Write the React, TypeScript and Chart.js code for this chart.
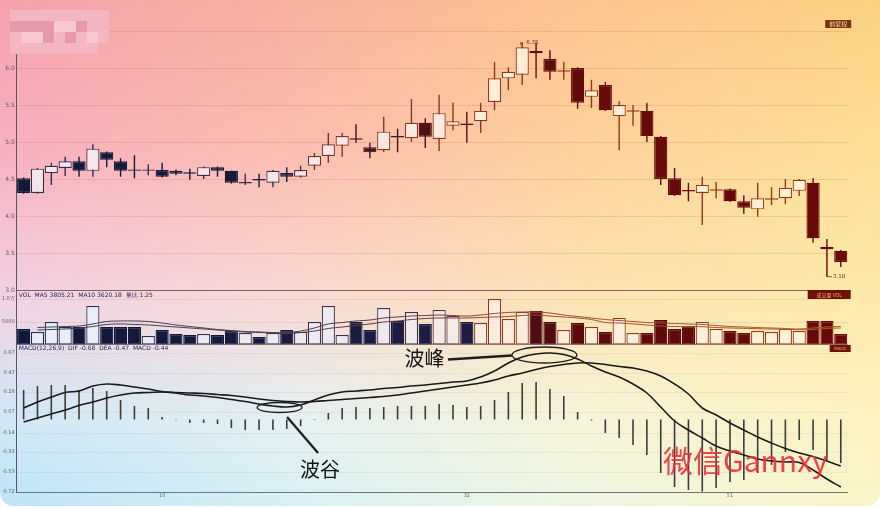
import React, { useEffect, useRef } from 'react';
import { Chart, registerables } from 'chart.js';

Chart.register(...registerables);

// ---------------- data ----------------
const CATEGORIES = [
  '0', '1', '2', '3', '4', '5', '6', '7', '8', '9',
  '10', '11', '12', '13', '14', '15', '16', '17', '18', '19',
  '20', '21', '22', '23', '24', '25', '26', '27', '28', '29',
  '30', '31', '32', '33', '34', '35', '36', '37', '38', '39',
  '40', '41', '42', '43', '44', '45', '46', '47', '48', '49',
  '50', '51', '52', '53', '54', '55', '56', '57', '58', '59',
];
const X_TICKS_SHOWN = [10, 32, 51];

const OPEN = [4.51, 4.31, 4.58, 4.65, 4.74, 4.61, 4.86, 4.74, 4.63, 4.61, 4.62, 4.61, 4.59, 4.54, 4.66, 4.61, 4.44, 4.50, 4.45, 4.58, 4.53, 4.68, 4.81, 4.95, 5.05, 4.93, 4.89, 5.08, 5.05, 5.26, 5.04, 5.22, 5.25, 5.28, 5.54, 5.86, 5.91, 6.23, 6.12, 5.95, 6.00, 5.61, 5.77, 5.35, 5.41, 5.42, 5.07, 4.51, 4.35, 4.31, 4.34, 4.36, 4.20, 4.09, 4.22, 4.24, 4.34, 4.45, 3.58, 3.53];
const HIGH = [4.52, 4.65, 4.72, 4.80, 4.80, 4.97, 4.87, 4.78, 4.82, 4.70, 4.72, 4.63, 4.64, 4.67, 4.67, 4.61, 4.57, 4.57, 4.62, 4.66, 4.68, 4.85, 5.12, 5.12, 5.24, 4.99, 5.34, 5.18, 5.58, 5.32, 5.64, 5.53, 5.41, 5.53, 6.08, 6.01, 6.35, 6.34, 6.24, 6.08, 6.01, 5.84, 5.81, 5.55, 5.50, 5.53, 5.08, 4.65, 4.45, 4.53, 4.46, 4.37, 4.28, 4.45, 4.39, 4.50, 4.50, 4.51, 3.69, 3.54];
const LOW = [4.30, 4.30, 4.42, 4.54, 4.53, 4.53, 4.66, 4.53, 4.51, 4.55, 4.52, 4.55, 4.49, 4.50, 4.53, 4.44, 4.42, 4.39, 4.39, 4.46, 4.52, 4.62, 4.72, 4.80, 4.99, 4.78, 4.86, 4.86, 5.00, 4.92, 4.88, 5.16, 4.99, 5.12, 5.43, 5.70, 5.77, 5.86, 5.84, 5.84, 5.45, 5.46, 5.42, 4.89, 5.22, 5.00, 4.42, 4.27, 4.20, 3.88, 4.24, 4.19, 4.03, 3.99, 4.15, 4.16, 4.27, 3.64, 3.18, 3.31];
const CLOSE = [4.31, 4.64, 4.68, 4.74, 4.61, 4.91, 4.76, 4.61, 4.61, 4.63, 4.53, 4.57, 4.57, 4.66, 4.61, 4.45, 4.46, 4.48, 4.61, 4.53, 4.62, 4.81, 4.97, 5.08, 5.03, 4.86, 5.14, 5.06, 5.26, 5.07, 5.39, 5.28, 5.23, 5.42, 5.86, 5.95, 6.28, 6.20, 5.95, 5.97, 5.53, 5.70, 5.43, 5.50, 5.43, 5.08, 4.50, 4.28, 4.33, 4.42, 4.36, 4.20, 4.11, 4.24, 4.24, 4.38, 4.49, 3.70, 3.55, 3.38];

const VOLUME = [3480, 2830, 5000, 3910, 3910, 8480, 3910, 3910, 3910, 1960, 3260, 2390, 2170, 2390, 2170, 3040, 2610, 1740, 2610, 3260, 2830, 5000, 8480, 2170, 5000, 3260, 8040, 5220, 7170, 4570, 7610, 6300, 5000, 4780, 10000, 5650, 7170, 7390, 5000, 3260, 4780, 3910, 2830, 5870, 2610, 2610, 5430, 3480, 4130, 5000, 3480, 3040, 2610, 3040, 2830, 3480, 3040, 5220, 5220, 2390];
const VOL_MA5 = [null, 3800, 3910, 4020, 4130, 4570, 5110, 5220, 5220, 5110, 4780, 4350, 4020, 3700, 3370, 3150, 2930, 2830, 2720, 2720, 3040, 3700, 4570, 4890, 5220, 5430, 5870, 6090, 6300, 6410, 6520, 6410, 6300, 6520, 6850, 7070, 7170, 7170, 6960, 6520, 6200, 5870, 5540, 5330, 5110, 4890, 4780, 4670, 4570, 4460, 4240, 4020, 3910, 3800, 3700, 3590, 3480, 3700, 3910, 4020];
const VOL_MA10 = [null, 3260, 3370, 3480, 3700, 4020, 4460, 4570, 4460, 4350, 4130, 3910, 3700, 3480, 3260, 3040, 2830, 2720, 2610, 2500, 2720, 3040, 3590, 3910, 4240, 4570, 5000, 5220, 5540, 5760, 5870, 5870, 5870, 5980, 6090, 6200, 6410, 6520, 6300, 6090, 5870, 5540, 4890, 4780, 4570, 4350, 4130, 4020, 4020, 3980, 3800, 3700, 3630, 3540, 3480, 3410, 3330, 3370, 3590, 3700];

const DIF = [0.115, 0.175, 0.225, 0.27, 0.285, 0.335, 0.355, 0.345, 0.325, 0.305, 0.28, 0.265, 0.245, 0.235, 0.22, 0.20, 0.18, 0.155, 0.135, 0.125, 0.145, 0.195, 0.245, 0.275, 0.285, 0.295, 0.31, 0.32, 0.335, 0.345, 0.36, 0.375, 0.385, 0.425, 0.485, 0.565, 0.625, 0.655, 0.665, 0.65, 0.605, 0.535, 0.475, 0.425, 0.355, 0.265, 0.125, -0.015, -0.105, -0.185, -0.265, -0.315, -0.355, -0.395, -0.415, -0.425, -0.43, -0.505, -0.595, -0.675];
const DEA = [-0.025, 0.015, 0.055, 0.095, 0.14, 0.175, 0.215, 0.245, 0.265, 0.27, 0.275, 0.27, 0.265, 0.26, 0.25, 0.24, 0.225, 0.205, 0.19, 0.18, 0.175, 0.18, 0.19, 0.20, 0.21, 0.22, 0.23, 0.245, 0.265, 0.285, 0.305, 0.325, 0.345, 0.365, 0.395, 0.435, 0.465, 0.50, 0.53, 0.55, 0.565, 0.565, 0.55, 0.53, 0.515, 0.485, 0.435, 0.355, 0.255, 0.115, 0.045, -0.035, -0.105, -0.175, -0.235, -0.29, -0.335, -0.37, -0.415, -0.465];
const MACD_HIST = [0.295, 0.335, 0.345, 0.345, 0.295, 0.315, 0.285, 0.195, 0.135, 0.115, 0.025, 0.005, -0.035, -0.035, -0.045, -0.085, -0.105, -0.105, -0.105, -0.095, -0.065, 0.005, 0.065, 0.115, 0.125, 0.115, 0.125, 0.135, 0.135, 0.135, 0.155, 0.145, 0.125, 0.135, 0.195, 0.275, 0.365, 0.375, 0.305, 0.235, 0.075, -0.01, -0.135, -0.185, -0.255, -0.355, -0.535, -0.675, -0.705, -0.72, -0.685, -0.625, -0.605, -0.535, -0.455, -0.325, -0.205, -0.305, -0.405, -0.435];

const VOL_TICKS = [0, 5000, 10000];
const MACD_TICKS = [0.665, 0.465, 0.275, 0.075, -0.135, -0.325, -0.525, -0.725];

const PEAK = { text: '波峰', index: 37.6, value: 0.645 };
const VALLEY = { text: '波谷', index: 18.48, value: 0.12 };
const WATERMARK = '微信Gannxy';
const VOL_CAPTION = 'VOL  MA5 3805.21  MA10 3620.18  量比 1.25';
const MACD_CAPTION = 'MACD(12,26,9)  DIF -0.68  DEA -0.47  MACD -0.44';

// ---------------- styling helpers ----------------
function hex(h: string): number[] {
  const n = parseInt(h.slice(1), 16);
  return [(n >> 16) & 255, (n >> 8) & 255, n & 255];
}
function mix(a: string, b: string, t: number): string {
  const A = hex(a), B = hex(b);
  return 'rgb(' + A.map((v, k) => Math.round(v + (B[k] - v) * t)).join(',') + ')';
}
function ramp(stops: [number, string][], i: number): string {
  for (let k = 0; k < stops.length - 1; k++) {
    const [i0, c0] = stops[k];
    const [i1, c1] = stops[k + 1];
    if (i <= i1) return mix(c0, c1, Math.max(0, (i - i0) / (i1 - i0)));
  }
  return stops[stops.length - 1][1];
}

const MAIN_DARK: [number, string][] = [[0, '#121a3a'], [19, '#1a1a38'], [24, '#3c1222'], [30, '#520f12'], [42, '#660a0a'], [59, '#6a0909']];
const MAIN_UP_BORDER: [number, string][] = [[0, '#2e3048'], [19, '#3a3048'], [23, '#7a3a2a'], [30, '#8a3a1e'], [59, '#9a3816']];
const MAIN_UP_FILL: [number, string][] = [[0, '#f6e4ec'], [20, '#f8e6e6'], [35, '#fcecd8'], [59, '#fdf2d4']];
const VOL_DARK: [number, string][] = [[0, '#0e1838'], [32, '#1e1c44'], [36, '#4a0c14'], [40, '#5c0a0a'], [59, '#6a0808']];
const VOL_UP_BORDER: [number, string][] = [[0, '#2a2e4a'], [30, '#44304a'], [34, '#8a3a22'], [59, '#9a3a18']];
const VOL_UP_FILL: [number, string][] = [[0, '#e6eef8'], [25, '#eee8f0'], [35, '#fcecdc'], [59, '#fdf3d8']];

const BG_COLS = [0, 0.333, 0.667, 1];
const BG_ROWS = [0, 150 / 506, 300 / 506, 420 / 506, 1];
const BG_GRID = [
  ['#f6a0ae', '#f9b1a0', '#fcc38e', '#fcd182'],
  ['#f8b0c0', '#fabdb0', '#fdd29c', '#fddf96'],
  ['#f0d2e4', '#f8dad6', '#fde4b4', '#fdeaaa'],
  ['#d0e8f6', '#e4f0f2', '#f6f4d8', '#fcf2c0'],
  ['#bce4f7', '#d8f0f4', '#eff6e2', '#fbf4c8'],
];

const MOSAIC = ['lllllllll', 'ddddLLdll', 'lLLdldlLl', 'llllllll.'];
const MOSAIC_COLORS: Record<string, string> = { l: '#f4b6c0', L: '#f7c8cf', d: '#e699a8' };

const isUp = (i: number) => CLOSE[i] >= OPEN[i];

const bgPlugin = {
  id: 'bgPaint',
  beforeDraw(chart: any) {
    const { ctx, width, height } = chart;
    ctx.save();
    for (let y = 0; y < height; y += 2) {
      const t = (y + 1) / height;
      let r = 0;
      while (r < BG_ROWS.length - 2 && t > BG_ROWS[r + 1]) r++;
      const f = Math.min(1, Math.max(0, (t - BG_ROWS[r]) / (BG_ROWS[r + 1] - BG_ROWS[r])));
      const g = ctx.createLinearGradient(0, 0, width, 0);
      BG_COLS.forEach((cx, c) => g.addColorStop(cx, mix(BG_GRID[r][c], BG_GRID[r + 1][c], f)));
      ctx.fillStyle = g;
      ctx.fillRect(0, y, width, 2);
    }
    ctx.restore();
  },
};

const overlayPlugin = {
  id: 'overlay',
  afterDraw(chart: any) {
    const { ctx, chartArea: ca, scales } = chart;
    const xs = scales.x, ys = scales.y, yv = scales.yv, ym = scales.ym;
    ctx.save();

    // blurred title mosaic
    MOSAIC.forEach((row, r) => {
      row.split('').forEach((ch, c) => {
        const col = MOSAIC_COLORS[ch];
        if (!col) return;
        ctx.fillStyle = col;
        ctx.fillRect(10 + c * 11, 10 + r * 11, 11, 11);
      });
    });

    // top-right small tag
    ctx.fillStyle = '#7a3410';
    ctx.fillRect(ca.right - 22.5, 20, 26, 8);
    ctx.fillStyle = '#f6d39a';
    ctx.font = '6px "Noto Sans CJK SC"';
    ctx.textAlign = 'center';
    ctx.textBaseline = 'middle';
    ctx.fillText('前复权', ca.right - 9.5, 24.2);

    // high / low marks
    let hi = 0, lo = 0;
    HIGH.forEach((h, i) => { if (h > HIGH[hi]) hi = i; });
    LOW.forEach((l, i) => { if (l < LOW[lo]) lo = i; });
    ctx.font = '5.5px "DejaVu Sans"';
    ctx.textAlign = 'left';
    ctx.strokeStyle = '#8a2a18';
    ctx.fillStyle = '#7a2a18';
    ctx.lineWidth = 0.8;
    const hx = xs.getPixelForValue(hi), hy = ys.getPixelForValue(HIGH[hi]);
    ctx.beginPath(); ctx.moveTo(hx - 1.5, hy + 3); ctx.lineTo(hx - 1.5, hy); ctx.stroke();
    ctx.fillText(HIGH[hi].toFixed(2), hx + 4, hy + 0.5);
    const lx = xs.getPixelForValue(lo), ly = ys.getPixelForValue(LOW[lo]);
    ctx.beginPath(); ctx.moveTo(lx, ly); ctx.lineTo(lx + 5, ly); ctx.stroke();
    ctx.fillText(LOW[lo].toFixed(2), lx + 6, ly);

    // volume captions & tags
    ctx.font = '6px "DejaVu Sans"';
    ctx.fillStyle = '#1f2452';
    ctx.textBaseline = 'middle';
    ctx.fillText(VOL_CAPTION, ca.left + 2, yv.top + 5.5);
    ctx.fillText(MACD_CAPTION, ca.left + 2, ym.top - 3.5);
    ctx.fillStyle = '#6e1208';
    ctx.fillRect(ca.right - 40, yv.top, 43, 9);
    ctx.fillRect(ca.right - 18, ym.top - 7, 21, 7);
    ctx.fillStyle = '#e8b48a';
    ctx.textAlign = 'center';
    ctx.font = '5px "Noto Sans CJK SC"';
    ctx.fillText('成交量 VOL', ca.right - 18.5, yv.top + 4.7);
    ctx.font = '4px "DejaVu Sans"';
    ctx.fillText('MACD', ca.right - 7.5, ym.top - 3.3);

    // annotations
    ctx.strokeStyle = '#1e1e1e';
    ctx.fillStyle = '#141414';
    const px = xs.getPixelForValue(PEAK.index), py = ym.getPixelForValue(PEAK.value);
    ctx.lineWidth = 1.3;
    ctx.beginPath(); ctx.ellipse(px, py, 32.5, 8, 0, 0, Math.PI * 2); ctx.stroke();
    ctx.lineWidth = 2.3;
    ctx.beginPath(); ctx.moveTo(px - 96.5, py + 4.5); ctx.lineTo(px - 32.5, py + 0.5); ctx.stroke();
    ctx.font = '20px "Noto Sans CJK SC"';
    ctx.textAlign = 'left';
    ctx.textBaseline = 'middle';
    ctx.fillText(PEAK.text, px - 140, py + 3);

    const vx = xs.getPixelForValue(VALLEY.index), vy = ym.getPixelForValue(VALLEY.value);
    ctx.lineWidth = 1.3;
    ctx.beginPath(); ctx.ellipse(vx, vy, 22.5, 5, 0, 0, Math.PI * 2); ctx.stroke();
    ctx.lineWidth = 2.3;
    ctx.beginPath(); ctx.moveTo(vx + 7.5, vy + 9.5); ctx.lineTo(vx + 38.5, vy + 45.5); ctx.stroke();
    ctx.fillText(VALLEY.text, vx + 20.5, vy + 61.5);

    // watermark
    ctx.font = '30px "Noto Sans CJK SC"';
    ctx.fillStyle = 'rgba(240,44,56,0.9)';
    ctx.fillText(WATERMARK, 663, 461);

    ctx.restore();
  },
};

const tickFont = { family: 'DejaVu Sans', size: 6 };

export default function App() {
  const ref = useRef<HTMLCanvasElement | null>(null);

  useEffect(() => {
    document.body.style.margin = '0';
    const n = CATEGORIES.length;
    const idx = Array.from({ length: n }, (_, i) => i);

    const volLineColor = (c: any) => {
      const area = c.chart.chartArea;
      if (!area) return '#555';
      const g = c.chart.ctx.createLinearGradient(area.left, 0, area.right, 0);
      g.addColorStop(0, '#3a3c58');
      g.addColorStop(0.45, '#5a3446');
      g.addColorStop(0.6, '#9a4a2a');
      g.addColorStop(1, '#a85a2a');
      return g;
    };

    const chart = new Chart(ref.current as HTMLCanvasElement, {
      type: 'bar',
      data: {
        labels: CATEGORIES,
        datasets: [
          {
            type: 'bar',
            label: 'wick',
            data: LOW.map((l, i) => [l, HIGH[i]]),
            yAxisID: 'y',
            backgroundColor: idx.map(i => (isUp(i) ? ramp(MAIN_UP_BORDER, i) : ramp(MAIN_DARK, i))),
            borderWidth: 0,
            maxBarThickness: 1.4,
            grouped: false,
            order: 5,
          },
          {
            type: 'bar',
            label: 'body',
            data: OPEN.map((o, i) => [o, CLOSE[i]]),
            yAxisID: 'y',
            backgroundColor: idx.map(i => (isUp(i) ? ramp(MAIN_UP_FILL, i) : ramp(MAIN_DARK, i))),
            borderColor: idx.map(i => (isUp(i) ? ramp(MAIN_UP_BORDER, i) : ramp(MAIN_DARK, i))),
            borderWidth: 1.2,
            borderSkipped: false,
            barPercentage: 1,
            categoryPercentage: 0.95,
            grouped: false,
            order: 4,
          },
          {
            type: 'bar',
            label: 'volume',
            data: VOLUME,
            yAxisID: 'yv',
            backgroundColor: idx.map(i => (isUp(i) ? ramp(VOL_UP_FILL, i) : ramp(VOL_DARK, i))),
            borderColor: idx.map(i => (isUp(i) ? ramp(VOL_UP_BORDER, i) : ramp(VOL_DARK, i))),
            borderWidth: 1.2,
            borderSkipped: false,
            barPercentage: 1,
            categoryPercentage: 0.95,
            grouped: false,
            order: 4,
          },
          {
            type: 'line',
            label: 'MA5',
            data: VOL_MA5,
            yAxisID: 'yv',
            borderColor: volLineColor,
            borderWidth: 1,
            pointRadius: 0,
            tension: 0.4,
            spanGaps: true,
            order: 1,
          },
          {
            type: 'line',
            label: 'MA10',
            data: VOL_MA10,
            yAxisID: 'yv',
            borderColor: volLineColor,
            borderWidth: 1,
            pointRadius: 0,
            tension: 0.4,
            spanGaps: true,
            order: 1,
          },
          {
            type: 'bar',
            label: 'MACD',
            data: MACD_HIST,
            yAxisID: 'ym',
            backgroundColor: '#3c3c3c',
            borderWidth: 0,
            maxBarThickness: 1.6,
            grouped: false,
            order: 4,
          },
          {
            type: 'line',
            label: 'DIF',
            data: DIF,
            yAxisID: 'ym',
            borderColor: '#1a1a1a',
            borderWidth: 1.6,
            pointRadius: 0,
            tension: 0.4,
            order: 1,
          },
          {
            type: 'line',
            label: 'DEA',
            data: DEA,
            yAxisID: 'ym',
            borderColor: '#1a1a1a',
            borderWidth: 1.6,
            pointRadius: 0,
            tension: 0.4,
            order: 1,
          },
        ],
      } as any,
      options: {
        responsive: false,
        animation: false,
        devicePixelRatio: 1,
        events: [],
        layout: { padding: { top: 31, right: 32.3, bottom: 0, left: 0 } },
        plugins: { legend: { display: false }, tooltip: { enabled: false }, title: { display: false } },
        scales: {
          x: {
            type: 'category',
            offset: true,
            grid: { display: false, drawTicks: false },
            border: { display: true, color: 'rgba(90,100,110,0.85)', width: 1 },
            ticks: {
              autoSkip: false,
              maxRotation: 0,
              padding: 1,
              font: { family: 'DejaVu Sans', size: 5 },
              color: '#6a6a70',
              callback: (_v: any, i: number) => (X_TICKS_SHOWN.includes(i) ? CATEGORIES[i] : ''),
            },
            afterFit: (s: any) => { s.height = 14; },
          },
          ym: {
            type: 'linear',
            position: 'left',
            stack: 'panels',
            stackWeight: 140,
            min: -0.725,
            max: 0.675,
            afterBuildTicks: (s: any) => { s.ticks = MACD_TICKS.map(v => ({ value: v })); },
            ticks: {
              padding: 2,
              font: { family: 'DejaVu Sans', size: 5 },
              color: '#5a5a6a',
              callback: (v: any) => Number(v).toFixed(2),
            },
            grid: { drawTicks: false, color: 'rgba(150,120,110,0.10)' },
            border: { display: true, color: '#5a5662', width: 1 },
            afterFit: (s: any) => { s.width = 16.7; },
          },
          yv: {
            type: 'linear',
            position: 'left',
            stack: 'panels',
            stackWeight: 62,
            min: -1522,
            max: 11957,
            afterBuildTicks: (s: any) => { s.ticks = VOL_TICKS.map(v => ({ value: v })); },
            ticks: {
              padding: 2,
              font: { family: 'DejaVu Sans', size: 5 },
              color: '#5a5a6a',
              callback: (v: any) => (v === 0 ? '' : v >= 10000 ? (v / 10000).toFixed(1) + '万' : String(v)),
            },
            grid: {
              drawTicks: false,
              color: (c: any) => (c.tick && c.tick.value === 0 ? 'rgba(70,60,70,0.55)' : 'rgba(205,80,60,0.12)'),
            },
            border: { display: true, color: '#5a5662', width: 1 },
            afterFit: (s: any) => { s.width = 16.7; },
          },
          y: {
            type: 'linear',
            position: 'left',
            stack: 'panels',
            stackWeight: 259,
            min: 3,
            max: 6.5,
            ticks: {
              stepSize: 0.5,
              padding: 2,
              font: tickFont,
              color: '#5a5a6a',
              callback: (v: any) => (v >= 6.5 ? '' : Number(v).toFixed(1)),
            },
            grid: {
              drawTicks: false,
              color: (c: any) => (c.tick && c.tick.value === 3 ? 'rgba(80,60,70,0.75)' : 'rgba(205,80,60,0.17)'),
            },
            border: { display: true, color: '#5a5662', width: 1 },
            afterFit: (s: any) => { s.width = 16.7; },
          },
        },
      } as any,
      plugins: [bgPlugin, overlayPlugin],
    });
    return () => chart.destroy();
  }, []);

  return (
    <div style={{ position: 'fixed', left: 0, top: 0, width: 880, height: 508, background: '#ffffff' }}>
      <div style={{ width: 880, height: 506, borderRadius: '0 0 14px 14px', overflow: 'hidden' }}>
        <canvas ref={ref} width={880} height={506} style={{ display: 'block', width: 880, height: 506 }} />
      </div>
    </div>
  );
}
